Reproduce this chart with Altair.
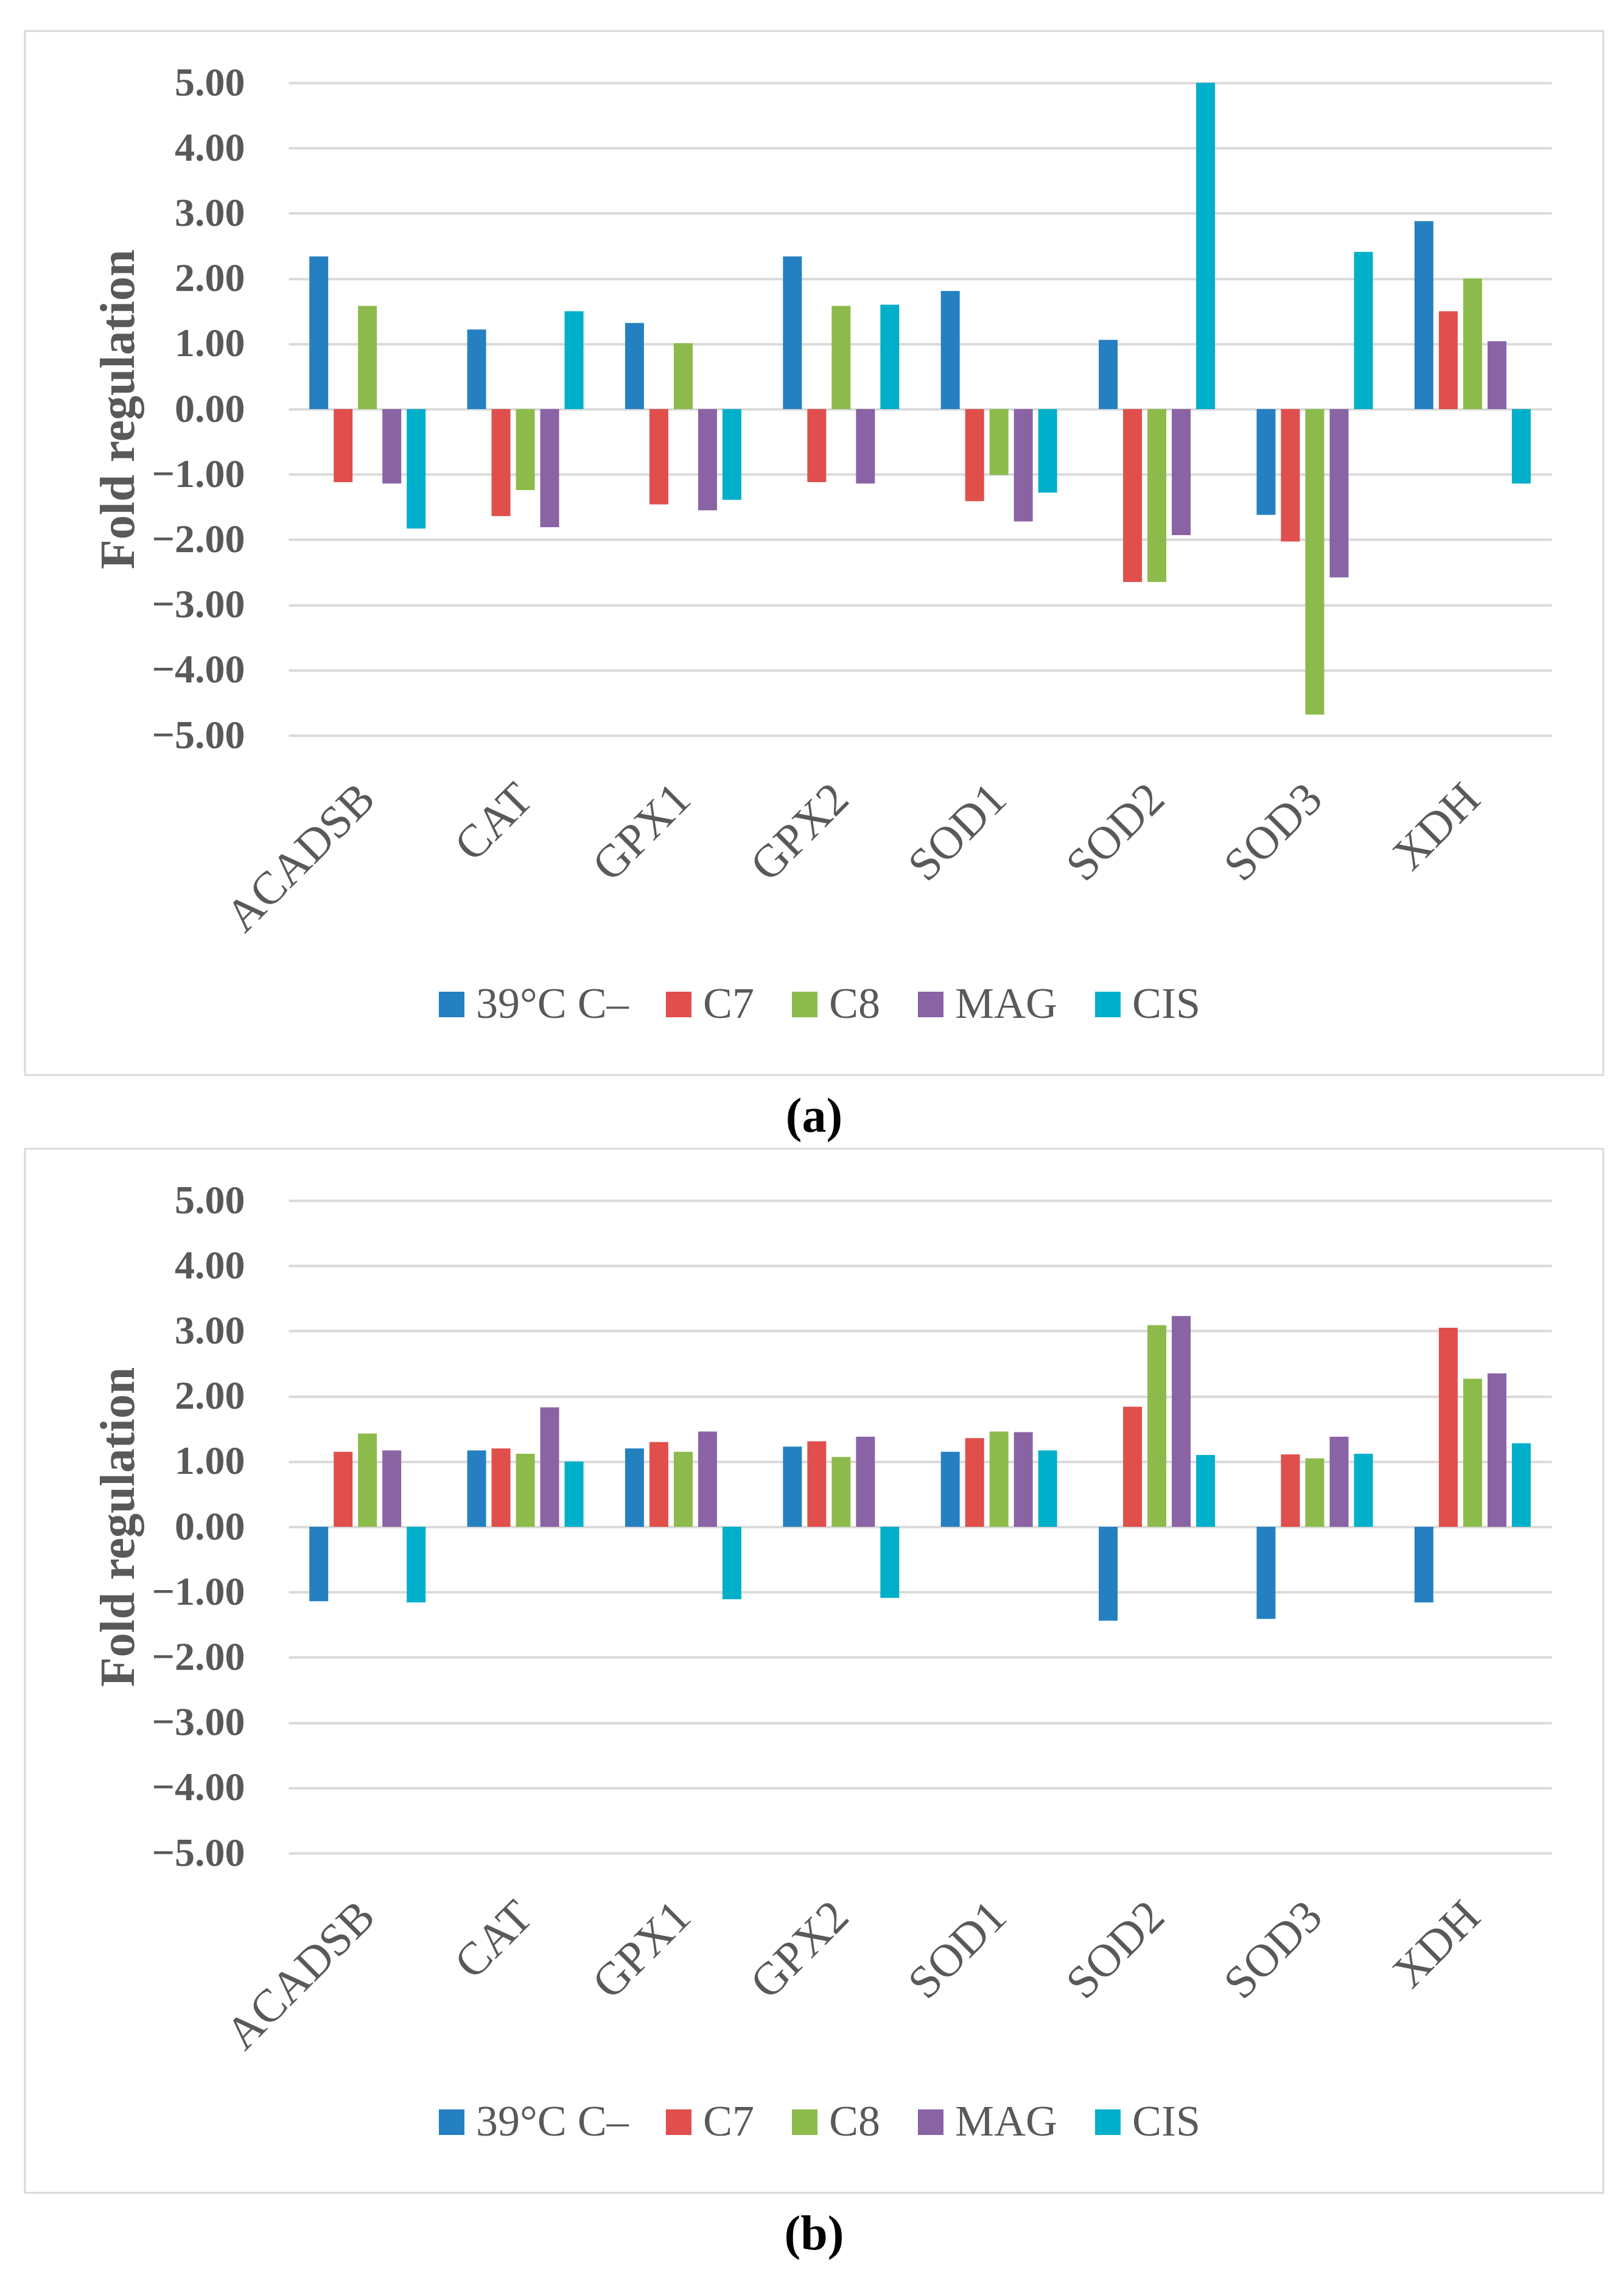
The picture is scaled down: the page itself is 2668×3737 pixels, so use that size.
import altair as alt
import pandas as pd

genes = ["ACADSB", "CAT", "GPX1", "GPX2", "SOD1", "SOD2", "SOD3", "XDH"]
series = ["39°C C–", "C7", "C8", "MAG", "CIS"]
colors = ["#2580C2", "#E04F4C", "#8DBB4B", "#8A63A5", "#00AFC9"]
y_ticks = [-5, -4, -3, -2, -1, 0, 1, 2, 3, 4, 5]

# panel (a)
a_39 = [2.34, 1.22, 1.32, 2.34, 1.81, 1.06, -1.62, 2.88]
a_c7 = [-1.12, -1.64, -1.46, -1.12, -1.41, -2.65, -2.03, 1.50]
a_c8 = [1.58, -1.24, 1.01, 1.58, -1.01, -2.65, -4.68, 2.00]
a_mag = [-1.14, -1.81, -1.55, -1.14, -1.72, -1.93, -2.58, 1.04]
a_cis = [-1.83, 1.50, -1.39, 1.60, -1.28, 5.00, 2.41, -1.14]

# panel (b)
b_39 = [-1.14, 1.17, 1.20, 1.23, 1.15, -1.44, -1.41, -1.16]
b_c7 = [1.15, 1.20, 1.30, 1.31, 1.36, 1.84, 1.11, 3.05]
b_c8 = [1.43, 1.12, 1.15, 1.07, 1.46, 3.09, 1.05, 2.27]
b_mag = [1.17, 1.83, 1.46, 1.38, 1.45, 3.23, 1.38, 2.35]
b_cis = [-1.16, 1.00, -1.11, -1.09, 1.17, 1.10, 1.12, 1.28]

SERIF = "Liberation Serif"
GRAY = "#595959"


def panel(vals, caption):
    rows = []
    for s, arr in zip(series, vals):
        for g, v in zip(genes, arr):
            rows.append({"gene": g, "series": s, "value": v})
    df = pd.DataFrame(rows)
    return alt.Chart(df).mark_bar().encode(
        x=alt.X(
            "gene:N", sort=genes,
            scale=alt.Scale(range=[433, 2508], paddingInner=0.229, paddingOuter=0.1145),
            axis=alt.Axis(
                title=None, labelAngle=-45, labelAlign="right", labelBaseline="middle",
                labelPadding=92, offset=-558, ticks=False, domain=False, grid=False,
                labelFont=SERIF, labelFontSize=76, labelColor=GRAY, labelOverlap=False,
                labelLimit=0,
            ),
        ),
        xOffset=alt.XOffset(
            "series:N", sort=series,
            scale=alt.Scale(paddingInner=0.225, paddingOuter=0.1125),
        ),
        y=alt.Y(
            "value:Q",
            scale=alt.Scale(domain=[-5, 5], range=[1157, 85], nice=False, zero=False),
            axis=alt.Axis(
                values=y_ticks, format=".2f", title="Fold regulation",
                offset=-433, labelPadding=72, ticks=False, domain=False,
                grid=True, gridColor="#D9D9D9", gridWidth=4,
                labelFont=SERIF, labelFontSize=66, labelFontWeight="bold",
                labelColor=GRAY, labelFlush=False, labelOverlap=False,
                titleFont=SERIF, titleFontSize=80, titleFontWeight="bold",
                titleColor=GRAY, titleX=-255, titleBaseline="alphabetic",
            ),
        ),
        color=alt.Color(
            "series:N", sort=series,
            scale=alt.Scale(domain=series, range=colors),
            legend=alt.Legend(
                title=None, orient="none", legendX=665, legendY=1563,
                direction="horizontal", symbolType="square", symbolSize=1764,
                symbolStrokeWidth=0, labelFont=SERIF, labelFontSize=72,
                labelColor=GRAY, labelOffset=4, columnPadding=46, padding=0,
                labelLimit=0,
            ),
        ),
    ).properties(
        width=2593, height=1715,
        title=alt.TitleParams(
            text=caption, orient="bottom", anchor="middle", font=SERIF,
            fontSize=80, fontWeight="bold", color="#000000", offset=30,
        ),
    )


pa = panel([a_39, a_c7, a_c8, a_mag, a_cis], "(a)")
pb = panel([b_39, b_c7, b_c8, b_mag, b_cis], "(b)")

chart = alt.vconcat(pa, pb, spacing=8).resolve_legend(
    color="independent"
).resolve_scale(color="independent").properties(
    padding={"left": 31, "top": 41, "right": 5, "bottom": 5},
    background="white",
).configure_view(stroke="#D9D9D9", strokeWidth=3)

chart.save("out.html", embed_options={"renderer": "svg", "actions": False})
